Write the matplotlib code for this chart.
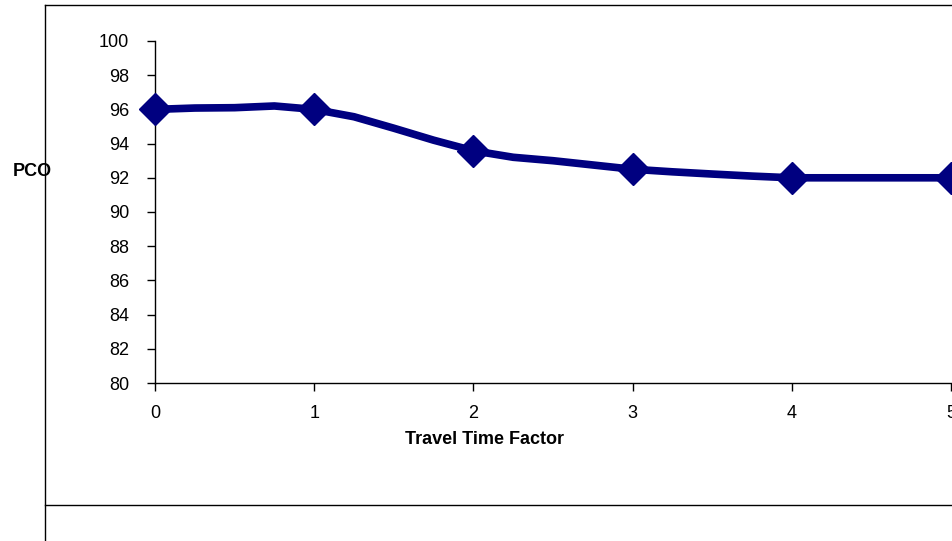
import matplotlib.pyplot as plt
from matplotlib.lines import Line2D

# --- dati ---
# linea (punti ogni 0.25)
x_line = [0, 0.25, 0.5, 0.75, 1, 1.25, 1.5, 1.75, 2, 2.25, 2.5, 2.75,
          3, 3.25, 3.5, 3.75, 4, 4.25, 4.5, 4.75, 5]
y_line = [96.0, 96.08, 96.1, 96.2, 96.0, 95.57, 94.9, 94.2, 93.58, 93.2,
          93.0, 92.75, 92.5, 92.35, 92.22, 92.1, 92.0, 92.0, 92.0, 92.0, 92.0]

# marcatori
x_mark = [0, 1, 2, 3, 4, 5]
y_mark = [96.0, 96.0, 93.58, 92.5, 92.0, 92.0]

x_ticks = [0, 1, 2, 3, 4, 5]
y_ticks = list(range(80, 101, 2))

plt.rcParams['font.family'] = ['Liberation Sans', 'DejaVu Sans']

fig = plt.figure(figsize=(9.53, 5.41), dpi=100)
ax = fig.add_axes([155 / 953, 1 - 383 / 541, 796 / 953, 342 / 541])

navy = '#000080'
ax.plot(x_line, y_line, color=navy, linewidth=5.5, solid_joinstyle='round',
        clip_on=False, zorder=3)
ax.plot(x_mark, y_mark, linestyle='none', marker='D', markersize=16,
        color=navy, clip_on=False, zorder=4)

ax.set_xlim(0, 5)
ax.set_ylim(80, 100)
ax.set_xticks(x_ticks)
ax.set_yticks(y_ticks)
ax.tick_params(axis='both', direction='out', length=5.5, width=1,
               labelsize=13, color='black')
ax.tick_params(axis='y', pad=13)
ax.tick_params(axis='x', pad=10)
for s in ['top', 'right']:
    ax.spines[s].set_visible(False)
for s in ['left', 'bottom']:
    ax.spines[s].set_linewidth(1)

fig.text(485 / 953, 1 - 440 / 541, "Travel Time Factor", fontsize=13,
         fontweight='bold', ha='center', va='center')
fig.text(32 / 953, 1 - 172 / 541, "PCO", fontsize=13, fontweight='bold',
         ha='center', va='center')

# cornice esterna
fig.add_artist(Line2D([45 / 953, 45 / 953], [0, 1 - 5 / 541], color='black', linewidth=1))
fig.add_artist(Line2D([45 / 953, 1], [1 - 5 / 541, 1 - 5 / 541], color='black', linewidth=1))
fig.add_artist(Line2D([45 / 953, 1], [1 - 505 / 541, 1 - 505 / 541], color='black', linewidth=1))

fig.savefig("out.png", dpi=100, facecolor='white')
